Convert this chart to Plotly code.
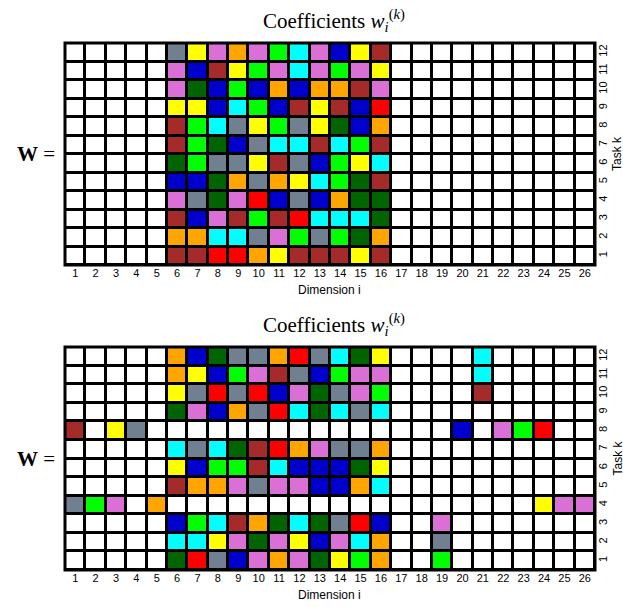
import plotly.graph_objects as go

# colour codes used in the grids
color_codes = ["W", "G", "Y", "P", "O", "L", "C", "B", "M", "D", "R"]
color_values = ["#FFFFFF", "#708090", "#FFFF00", "#DA70D6", "#FFA500", "#00FF00",
                "#00FFFF", "#0000CD", "#A52A2A", "#006400", "#FF0000"]

dimensions = list(range(1, 27))
tasks = list(range(1, 13))

# rows listed from task 12 (top) down to task 1 (bottom); columns = dimensions 1..26
top_rows = [
    "WWWWW GYPOPLCPBYM WWWWWWWWWW",
    "WWWWW PBMYLPCPLPY WWWWWWWWWW",
    "WWWWW PDBLBOBOOMP WWWWWWWWWW",
    "WWWWW YYBCLBMYMBR WWWWWWWWWW",
    "WWWWW MLCGYLGYDBO WWWWWWWWWW",
    "WWWWW MLDBGCCMCLM WWWWWWWWWW",
    "WWWWW DLGGYMGBLYC WWWWWWWWWW",
    "WWWWW BBDOGOYCLDM WWWWWWWWWW",
    "WWWWW PGDPRBGBODD WWWWWWWWWW",
    "WWWWW MBPMLMRCCCD WWWWWWWWWW",
    "WWWWW OOCCGPLGLDO WWWWWWWWWW",
    "WWWWW MMRROYMMMYM WWWWWWWWWW",
]

bottom_rows = [
    "WWWWW OBDGGORGCDY WWWWCWWWWW",
    "WWWWW OYBLPMGBLPP WWWWCWWWWW",
    "WWWWW YGRGRBPDGPL WWWWMWWWWW",
    "WWWWW DPBOGRCDCGC WWWWWWWWWW",
    "MWYGW WWWWWWWWWWW WWWBWPLRWW",
    "WWWWW CGCDMROPGGO WWWWWWWWWW",
    "WWWWW YBLLMCBBBDY WWWWWWWWWW",
    "WWWWW MOOPGPPBBOC WWWWWWWWWW",
    "GLPWO WWWWWWWWWWW WWWWWWWYPP",
    "WWWWW BLCMODCDGRB WWPWWWWWWW",
    "WWWWW CCYPDPYBPCO WWGWWWWWWW",
    "WWWWW DRGBPOPDYLO WWLWWWWWWW",
]


def to_z(rows):
    z = []
    for r in reversed(rows):  # task 1 first
        s = r.replace(" ", "")
        z.append([color_codes.index(c) for c in s])
    return z


n = len(color_codes)
colorscale = []
for i, c in enumerate(color_values):
    colorscale.append([i / n, c])
    colorscale.append([(i + 1) / n, c])

W_, H_ = 623, 607


def px(x):
    return x / W_


def py(y):
    return 1 - y / H_


x0, x1 = 65, 595
grids = [
    (top_rows, 43, 265, "x", "y"),
    (bottom_rows, 347, 570, "x2", "y2"),
]

fig = go.Figure()
serif = "Liberation Serif"
sans = "Liberation Sans"

annotations = []
shapes = []
for idx, (rows, ytop, ybot, xa, ya) in enumerate(grids):
    fig.add_trace(go.Heatmap(
        z=to_z(rows), x=dimensions, y=tasks,
        zmin=-0.5, zmax=n - 0.5,
        colorscale=colorscale, showscale=False,
        xgap=3, ygap=3, xaxis=xa, yaxis=ya, hoverinfo="skip",
    ))
    sfx = "" if idx == 0 else "2"
    fig.layout["xaxis" + sfx] = dict(
        domain=[px(x0), px(x1)], anchor="y" + sfx,
        tickmode="array", tickvals=dimensions, ticktext=[str(d) for d in dimensions],
        showgrid=False, zeroline=False, ticks="", range=[0.5, 26.5],
        tickfont=dict(family=sans, size=11, color="black"),
        fixedrange=True,
    )
    fig.layout["yaxis" + sfx] = dict(
        domain=[py(ybot), py(ytop)], anchor="x" + sfx, side="right",
        tickmode="array", tickvals=tasks, ticktext=[str(t) for t in tasks],
        showgrid=False, zeroline=False, ticks="", range=[0.5, 12.5],
        tickangle=-90, tickfont=dict(family=sans, size=11, color="black"),
        fixedrange=True,
    )
    # thick outer frame
    shapes.append(dict(type="rect", xref="x" + sfx + " domain", yref="y" + sfx + " domain",
                       x0=0, x1=1, y0=0, y1=1, line=dict(color="black", width=3)))
    # title
    annotations.append(dict(
        text="Coefficients <i>w</i><sub><i>i</i></sub><sup>(<i>k</i>)</sup>",
        xref="paper", yref="paper", x=px(334), y=py(ytop - 22),
        xanchor="center", yanchor="middle",
        showarrow=False, font=dict(family=serif, size=21, color="black"),
    ))
    annotations.append(dict(
        text="Dimension i", xref="paper", yref="paper", x=px(330), y=py(ybot + 25),
        xanchor="center", yanchor="middle", showarrow=False,
        font=dict(family=sans, size=12, color="black"),
    ))
    annotations.append(dict(
        text="<b>W</b> =", xref="paper", yref="paper", x=px(36),
        y=py((ytop + ybot) / 2), xanchor="center", yanchor="middle", showarrow=False,
        font=dict(family=serif, size=21, color="black"),
    ))
    annotations.append(dict(
        text="Task k", xref="paper", yref="paper", x=px(617),
        y=py((ytop + ybot) / 2), xanchor="center", yanchor="middle",
        showarrow=False, textangle=-90,
        font=dict(family=sans, size=12, color="black"),
    ))

fig.update_layout(
    width=W_, height=H_, margin=dict(l=0, r=0, t=0, b=0),
    plot_bgcolor="black", paper_bgcolor="white",
    annotations=annotations, shapes=shapes, showlegend=False,
)

fig.write_html(
    "out.html",
    config={"displayModeBar": False},
    post_script="document.body.style.margin='0';document.body.style.overflow='hidden';",
)
